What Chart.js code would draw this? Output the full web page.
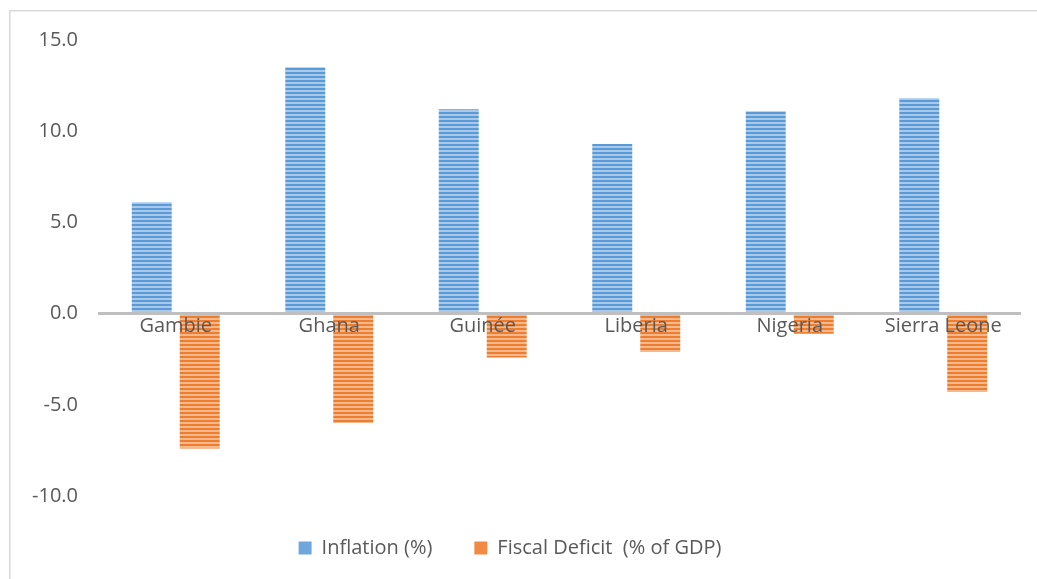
<!DOCTYPE html>
<html>
<head>
<meta charset="utf-8">
<script src="https://cdn.jsdelivr.net/npm/chart.js@4"></script>
<style>
  html, body { margin: 0; padding: 0; background: #fff; }
  #wrap { position: absolute; left: 0; top: 0; width: 1037px; height: 579px; }
</style>
</head>
<body>
<div id="wrap"><canvas id="chart"></canvas></div>
<script>
// --- Data ---
const countries = ['Gambie', 'Ghana', 'Guinée', 'Liberia', 'Nigeria', 'Sierra Leone'];
const inflation = [6.1, 13.5, 11.2, 9.3, 11.1, 11.8];
const fiscalDeficit = [-7.4, -6.0, -2.4, -2.1, -1.1, -4.3];
const seriesNames = ['Inflation (%)', 'Fiscal Deficit  (% of GDP)'];
const legendColors = ['#6fa6dc', '#f08a45'];

// striped fill like the Excel pattern
function stripes(dark, light) {
    const c = document.createElement('canvas');
    c.width = 4;
    c.height = 4;
    const g = c.getContext('2d');
    g.fillStyle = light;
    g.fillRect(0, 0, 4, 4);
    g.fillStyle = dark;
    g.fillRect(0, 0, 4, 2);
    return g.createPattern(c, 'repeat');
}

const blueFill = stripes('#5b9bd5', '#a8c9ec');
const orangeFill = stripes('#ed7d31', '#f5b88a');

const frame = {
    id: 'frame',
    beforeDraw(chart) {
        const g = chart.ctx;
        g.save();
        g.fillStyle = '#fff';
        g.fillRect(0, 0, chart.width, chart.height);
        g.strokeStyle = '#d9d9d9';
        g.lineWidth = 1.5;
        g.strokeRect(9.75, 10.75, 1200, 800);
        g.restore();
    }
};

const textColor = '#595959';
const font = { family: "'Open Sans', sans-serif", size: 20 };

new Chart(document.getElementById('chart'), {
    type: 'bar',
    data: {
        labels: countries,
        datasets: [
            { label: seriesNames[0], data: inflation, backgroundColor: blueFill, borderWidth: 0 },
            { label: seriesNames[1], data: fiscalDeficit, backgroundColor: orangeFill, borderWidth: 0 }
        ]
    },
    options: {
        responsive: true,
        maintainAspectRatio: false,
        animation: false,
        categoryPercentage: 0.625,
        barPercentage: 0.833,
        layout: { padding: { top: 40, left: 0, right: 17, bottom: 11 } },
        scales: {
            x: {
                position: { y: 0 },
                grid: { display: false, drawTicks: false },
                border: { display: true, color: '#bfbfbf', width: 3, z: 1 },
                ticks: { color: textColor, font: font, padding: 1, maxRotation: 0, autoSkip: false, z: 1 }
            },
            y: {
                min: -10,
                max: 15,
                grid: { display: false, drawTicks: false },
                border: { display: false },
                ticks: {
                    stepSize: 5,
                    color: textColor,
                    font: font,
                    padding: 21,
                    callback: v => v.toFixed(1)
                },
                afterFit(scale) { scale.width = 99; }
            }
        },
        plugins: {
            legend: {
                position: 'bottom',
                labels: {
                    color: textColor,
                    font: font,
                    boxWidth: 13,
                    boxHeight: 13,
                    padding: 42,
                    generateLabels(chart) {
                        const items = Chart.defaults.plugins.legend.labels.generateLabels(chart);
                        items.forEach((it, i) => {
                            it.fillStyle = legendColors[i];
                            it.lineWidth = 0;
                        });
                        return items;
                    }
                }
            },
            tooltip: { enabled: false }
        }
    },
    plugins: [frame]
});
</script>
</body>
</html>
